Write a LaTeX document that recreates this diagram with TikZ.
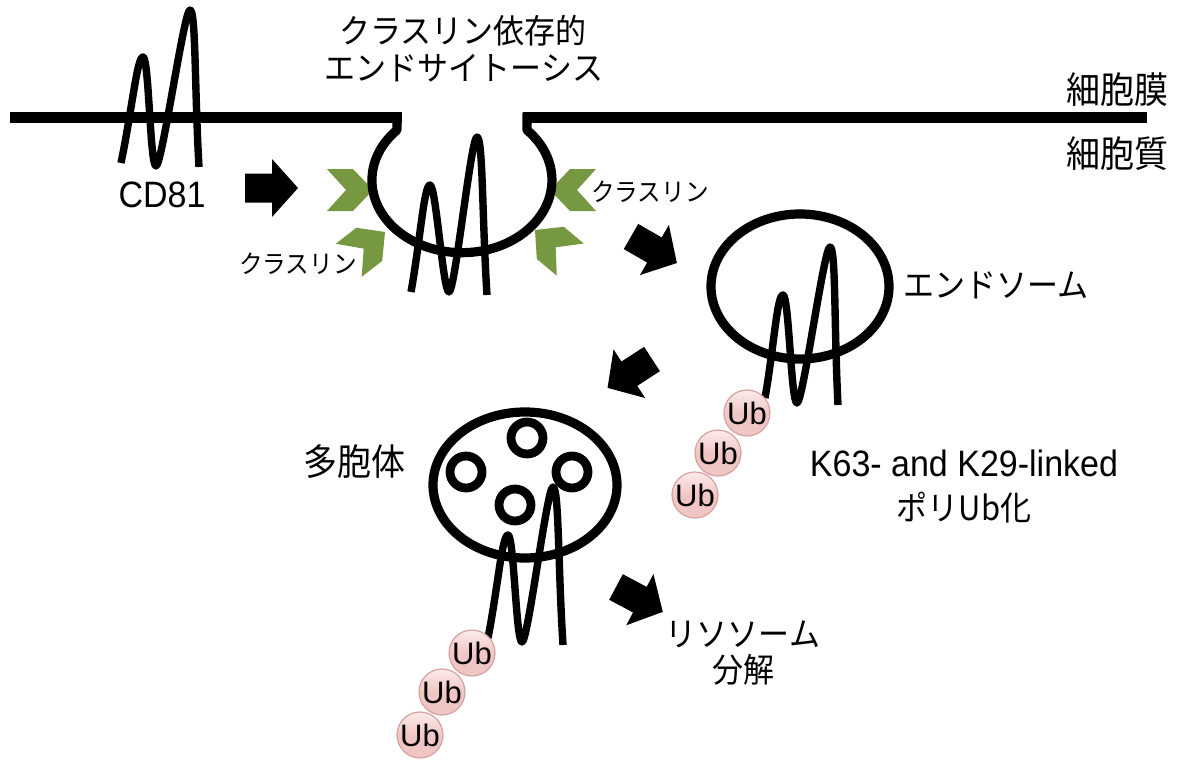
\documentclass[tikz,border=0pt]{standalone}
\usepackage{fontspec}
\usepackage{graphicx}
\setmainfont{Liberation Sans}
\newfontfamily\jpfont{Noto Sans CJK JP}
\usetikzlibrary{calc}

\definecolor{clathgreen}{RGB}{118,152,64}
\definecolor{ubpink}{RGB}{240,198,196}
\definecolor{ubedge}{RGB}{214,162,160}
\definecolor{ubhi}{RGB}{252,236,235}

% slightly taller lettering
\newcommand\vst[1]{\scalebox{1}[1.08]{#1}}

% tetraspanin: start, peak, valley, tall peak, end
\newcommand\mshape[5]{%
  \draw[tsp] #1 .. controls ($#1!0.5!#2$) and ($#2+(-6,0)$) .. #2
     .. controls ($#2+(6,0)$) and ($#3+(-6,0)$) .. #3
     .. controls ($#3+(6,0)$) and ($#4+(-6,0)$) .. #4
     .. controls ($#4+(6,0)$) and ($#5!0.5!#4$) .. #5;}

\begin{document}
\begin{tikzpicture}[x=0.5pt,y=-0.5pt,
  membrane/.style={line width=5.5pt},
  vesicle/.style={line width=4.6pt, line join=round},
  tsp/.style={line width=3.7pt, line join=round},
  inner/.style={line width=4.4pt},
  jp/.style={inner sep=0pt, font=\jpfont\fontsize{15.5}{18}\selectfont},
  jpbig/.style={inner sep=0pt, font=\jpfont\fontsize{17}{20}\selectfont},
  jpsmall/.style={inner sep=0pt, font=\jpfont\fontsize{11.8}{14}\selectfont},
  latin/.style={inner sep=0pt, font=\fontsize{17}{20}\selectfont},
  ub/.style={circle, draw=ubedge, line width=0.6pt, minimum size=23pt, inner sep=0pt,
    top color=ubhi, bottom color=ubpink, middle color=ubpink,
    font=\fontsize{15.5}{17}\selectfont},
  blockarrow/.pic={\fill (0,-14.5) -- (27,-14.5) -- (27,-29) -- (53,0) -- (27,29) -- (27,14.5) -- (0,14.5) -- cycle;},
  chevron/.pic={\fill[clathgreen] (0,0) -- (-20,-21) -- (-46,-21) -- (-27,0) -- (-46,21) -- (-20,21) -- cycle;}
]
\fill[white] (0,0) rectangle (1180,760);
\useasboundingbox (0,0) rectangle (1180,760);

% plasma membrane with the clathrin-coated pit
\draw[membrane] (10,117.5) -- (401.5,117.5);
\draw[membrane] (522.5,117.5) -- (1147,117.5);

% clathrin coat
\pic at (373,190) {chevron};
\pic[rotate=180] at (550,190) {chevron};
\pic[rotate=38] at (385,232) {chevron};
\pic[rotate=140] at (535,230) {chevron};

\draw[vesicle] (397,113) -- (397,130)
  arc[start angle=223.8, end angle=-43.8, x radius=90, y radius=72.5] -- (527,113);

% CD81 in the membrane and in the pit
\mshape{(121,163)}{(143,57)}{(156,166)}{(190,10)}{(199,167)}
\mshape{(411,292)}{(430,185)}{(449,292)}{(477,137)}{(487,295)}

% endosome
\draw[vesicle] (800,286.5) ellipse[x radius=89, y radius=72.5];
\mshape{(765,398)}{(783,295)}{(797,403)}{(830,247)}{(838,405)}

% multivesicular body
\draw[vesicle] (525,485) ellipse[x radius=92, y radius=73];
\foreach \p in {(527,438),(466,472),(572,472),(515,505)}
  \draw[inner] \p circle[radius=16];
\mshape{(488,638)}{(508,535)}{(522,642)}{(553,487)}{(563,645)}

% ubiquitin chains
\node[ub] (ua1) at (747,413) {Ub};
\node[ub] (ua2) at (718,453) {Ub};
\node[ub] (ua3) at (695,495) {Ub};
\node[ub] (ub1) at (472,653) {Ub};
\node[ub] (ub2) at (442,692) {Ub};
\node[ub] (ub3) at (420,735) {Ub};

% transport arrows
\pic at (245,188) {blockarrow};
\pic[rotate=-30] at (631,236.5) {blockarrow};
\pic[rotate=-147] at (652,359) {blockarrow};
\pic[rotate=-28] at (616,587) {blockarrow};

% labels
\node[jp] (t1) at (463,31) {\vst{クラスリン依存的}};
\node[jp] (t2) at (464,68) {\vst{エンドサイトーシス}};
\node[jpbig] (pm) at (1117,90) {\vst{細胞膜}};
\node[jpbig] (cy) at (1117,154) {\vst{細胞質}};
\node[latin] (cd) at (162,195) {\vst{CD81}};
\node[jpsmall] (cl1) at (298,264) {\vst{クラスリン}};
\node[jpsmall] (cl2) at (650,192) {\vst{クラスリン}};
\node[jp] (endo) at (996,285) {\vst{エンドソーム}};
\node[jpbig] (mvb) at (354,462) {\vst{多胞体}};
\node[latin] (link) at (964,463) {\vst{K63- and K29-linked}};
\node[jp] (poly) at (964,508) {\vst{ポリUb化}};
\node[jp] (lys1) at (743,634) {\vst{リソソーム}};
\node[jp] (lys2) at (743,670) {\vst{分解}};
\end{tikzpicture}
\end{document}
